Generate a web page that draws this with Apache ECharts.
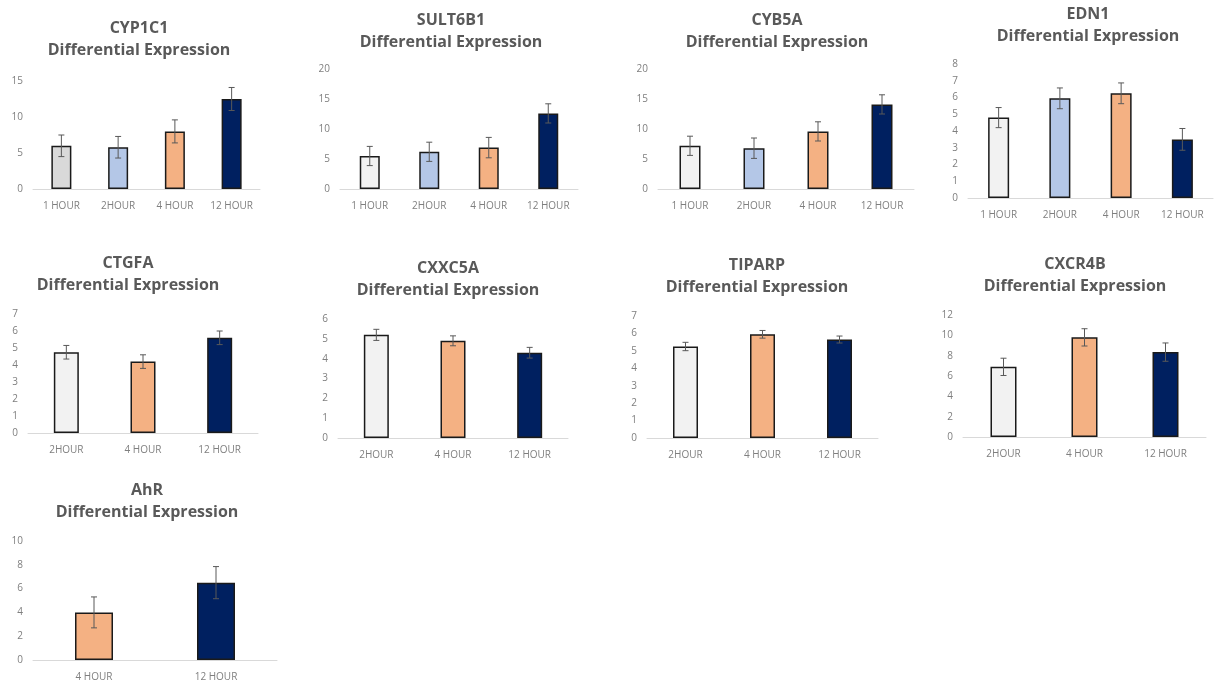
<!DOCTYPE html>
<html>
<head>
<meta charset="utf-8">
<script src="https://cdn.jsdelivr.net/npm/echarts@6/dist/echarts.min.js"></script>
<style>
  html, body { margin: 0; padding: 0; background: #fff; }
  #chart { width: 1215px; height: 684px; }
</style>
</head>
<body>
<div id="chart"></div>
<script>
// categories
var cats4 = ['1 HOUR', '2HOUR', '4 HOUR', '12 HOUR'];
var cats3 = ['2HOUR', '4 HOUR', '12 HOUR'];
var cats2 = ['4 HOUR', '12 HOUR'];

// values (mean) and error (+/-)
var cyp1c1 = [6.0, 5.8, 8.0, 12.5];
var cyp1c1Err = [1.5, 1.5, 1.6, 1.6];
var sult6b1 = [5.5, 6.2, 6.9, 12.6];
var sult6b1Err = [1.6, 1.6, 1.7, 1.6];
var cyb5a = [7.2, 6.8, 9.6, 14.1];
var cyb5aErr = [1.6, 1.7, 1.6, 1.6];
var edn1 = [4.8, 5.95, 6.25, 3.5];
var edn1Err = [0.6, 0.62, 0.62, 0.65];
var ctgfa = [4.75, 4.2, 5.6];
var ctgfaErr = [0.4, 0.4, 0.4];
var cxxc5a = [5.2, 4.9, 4.3];
var cxxc5aErr = [0.28, 0.25, 0.27];
var tiparp = [5.25, 5.95, 5.65];
var tiparpErr = [0.24, 0.22, 0.2];
var cxcr4b = [6.9, 9.8, 8.35];
var cxcr4bErr = [0.85, 0.85, 0.9];
var ahr = [4.0, 6.5];
var ahrErr = [1.3, 1.35];

// axis scales per panel
var yMax = [15, 20, 20, 8, 7, 6, 7, 12, 10];
var yStep = [5, 5, 5, 1, 1, 1, 1, 2, 2];

var GRAY = '#f2f2f2', DGRAY = '#d9d9d9', BLUE = '#b4c7e7', PEACH = '#f4b183', NAVY = '#002060';

var panels = [
  { gene: 'CYP1C1', cats: cats4, vals: cyp1c1, err: cyp1c1Err, colors: [DGRAY, BLUE, PEACH, NAVY],
    grid: [33, 81, 227, 108], title: [139, 17], bw: 20 },
  { gene: 'SULT6B1', cats: cats4, vals: sult6b1, err: sult6b1Err, colors: [GRAY, BLUE, PEACH, NAVY],
    grid: [340, 69, 238, 120], title: [451, 9], bw: 20 },
  { gene: 'CYB5A', cats: cats4, vals: cyb5a, err: cyb5aErr, colors: [GRAY, BLUE, PEACH, NAVY],
    grid: [658, 69, 256, 120], title: [777, 9], bw: 21 },
  { gene: 'EDN1', cats: cats4, vals: edn1, err: edn1Err, colors: [GRAY, BLUE, PEACH, NAVY],
    grid: [968, 64, 245, 134], title: [1088, 3], bw: 21 },
  { gene: 'CTGFA', cats: cats3, vals: ctgfa, err: ctgfaErr, colors: [GRAY, PEACH, NAVY],
    grid: [28, 314, 230, 119], title: [128, 252], bw: 25 },
  { gene: 'CXXC5A', cats: cats3, vals: cxxc5a, err: cxxc5aErr, colors: [GRAY, PEACH, NAVY],
    grid: [338, 319, 230, 119], title: [448, 257], bw: 25 },
  { gene: 'TIPARP', cats: cats3, vals: tiparp, err: tiparpErr, colors: [GRAY, PEACH, NAVY],
    grid: [647, 316, 231, 122], title: [757, 254], bw: 25 },
  { gene: 'CXCR4B', cats: cats3, vals: cxcr4b, err: cxcr4bErr, colors: [GRAY, PEACH, NAVY],
    grid: [963, 315, 243, 122], title: [1075, 253], bw: 26 },
  { gene: 'AhR', cats: cats2, vals: ahr, err: ahrErr, colors: [PEACH, NAVY],
    grid: [33, 541, 244, 119], title: [147, 479], bw: 38 }
];

var chart = echarts.init(document.getElementById('chart'));

var titles = [], grids = [], xAxes = [], yAxes = [], series = [];

panels.forEach(function (p, i) {
  titles.push({
    text: p.gene + '\nDifferential Expression',
    left: p.title[0], top: p.title[1],
    textAlign: 'center',
    padding: 0,
    textStyle: { fontFamily: 'Open Sans', fontWeight: 'bold', fontSize: 16, color: '#595959', lineHeight: 22 }
  });
  grids.push({ left: p.grid[0], top: p.grid[1], width: p.grid[2], height: p.grid[3] });
  xAxes.push({
    type: 'category', gridIndex: i, data: p.cats,
    axisLine: { lineStyle: { color: '#d9d9d9', width: 1 } },
    axisTick: { show: false },
    axisLabel: { color: '#7f7f7f', fontSize: 10, fontFamily: 'Open Sans', margin: 12, interval: 0 }
  });
  yAxes.push({
    type: 'value', gridIndex: i, min: 0, max: yMax[i], interval: yStep[i],
    axisLine: { show: false }, axisTick: { show: false }, splitLine: { show: false },
    axisLabel: { color: '#7f7f7f', fontSize: 10, fontFamily: 'Open Sans', margin: 10 }
  });
  series.push({
    type: 'bar', xAxisIndex: i, yAxisIndex: i, barWidth: p.bw,
    data: p.vals.map(function (v, j) {
      return { value: v, itemStyle: { color: p.colors[j] } };
    }),
    itemStyle: { borderColor: '#1a1a1a', borderWidth: 1.5 },
    emphasis: { disabled: true },
    z: 2
  });
  series.push({
    type: 'custom', xAxisIndex: i, yAxisIndex: i,
    data: p.vals.map(function (v, j) { return [j, v - p.err[j], v + p.err[j]]; }),
    renderItem: function (params, api) {
      var lo = api.coord([api.value(0), api.value(1)]);
      var hi = api.coord([api.value(0), api.value(2)]);
      var cap = 3;
      var st = { stroke: '#595959', lineWidth: 1 };
      return {
        type: 'group',
        children: [
          { type: 'line', shape: { x1: lo[0], y1: lo[1], x2: hi[0], y2: hi[1] }, style: st },
          { type: 'line', shape: { x1: lo[0] - cap, y1: lo[1], x2: lo[0] + cap, y2: lo[1] }, style: st },
          { type: 'line', shape: { x1: hi[0] - cap, y1: hi[1], x2: hi[0] + cap, y2: hi[1] }, style: st }
        ]
      };
    },
    z: 3
  });
});

chart.setOption({
  animation: false,
  title: titles,
  grid: grids,
  xAxis: xAxes,
  yAxis: yAxes,
  series: series
});
</script>
</body>
</html>
